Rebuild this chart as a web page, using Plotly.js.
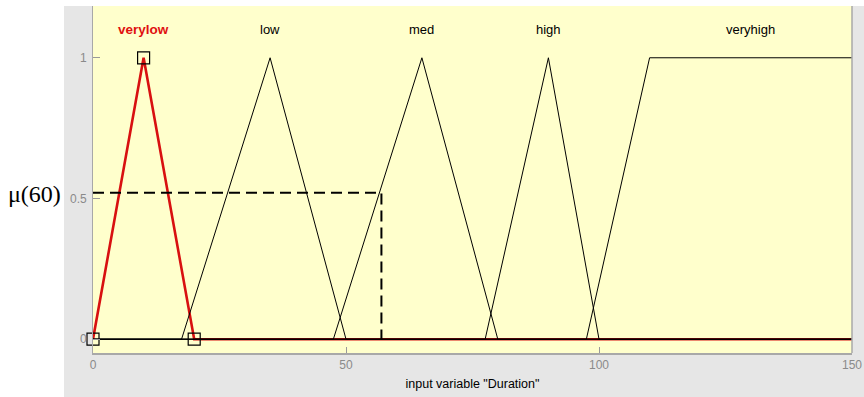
<!DOCTYPE html>
<html>
<head>
<meta charset="utf-8">
<script src="https://cdn.plot.ly/plotly-3.0.1.min.js"></script>
<style>html,body{margin:0;padding:0;background:#fff;}#chart{width:864px;height:397px;}</style>
</head>
<body>
<div id="chart"></div>
<script>
// Membership functions of input variable "Duration"
const mfNames = ['verylow', 'low', 'med', 'high', 'veryhigh'];
const mfX = [
  [0, 10, 20],
  [17.5, 35, 50],
  [47.5, 65, 80],
  [77.5, 90, 100],
  [97.5, 110, 150]
];
const mfY = [
  [0, 1, 0],
  [0, 1, 0],
  [0, 1, 0],
  [0, 1, 0],
  [0, 1, 1]
];
const labelX = [10, 35, 65, 90, 130];
const labelY = 1.1;
const xRange = [0, 150];
const xTicks = [0, 50, 100, 150];
const yTicks = [0, 0.5, 1];
const yTickText = ['0', '0.5', '1'];
// selected MF handles
const handleX = [0, 10, 20];
const handleY = [0, 1, 0];
// evaluation of mu(60)
const muX = 57;
const muY = 0.52;
const muLabel = 'μ(60)';
const xTitle = 'input variable "Duration"';

const traces = [];
// selected MF (verylow) in red, spanning full range
traces.push({
  x: [xRange[0]].concat(mfX[0]).concat([xRange[1]]),
  y: [0].concat(mfY[0]).concat([0]),
  mode: 'lines', line: {color: '#d81010', width: 2.6}, hoverinfo: 'skip'
});
// other MFs in thin black, padded with zeros over full range
for (let i = 1; i < mfNames.length; i++) {
  const xs = [xRange[0]].concat(mfX[i]);
  const ys = [0].concat(mfY[i]);
  if (xs[xs.length - 1] < xRange[1]) { xs.push(xRange[1]); ys.push(0); }
  traces.push({x: xs, y: ys, mode: 'lines', line: {color: '#000', width: 1}, hoverinfo: 'skip'});
}
// dashed mu line
traces.push({
  x: [xRange[0], muX, muX], y: [muY, muY, 0],
  mode: 'lines', line: {color: '#000', width: 2, dash: '11px,6px'}, hoverinfo: 'skip'
});
// handles
traces.push({
  x: handleX, y: handleY, mode: 'markers', cliponaxis: false,
  marker: {symbol: 'square-open', size: 12, color: '#000', line: {width: 1.2, color: '#000'}},
  hoverinfo: 'skip'
});

const tickFont = {family: 'Liberation Sans, Arial, sans-serif', size: 12, color: '#8a8a8a'};
const annotations = mfNames.map((n, i) => ({
  x: labelX[i], y: labelY, xref: 'x', yref: 'y',
  text: i === 0 ? '<b>' + n + '</b>' : n, showarrow: false,
  font: {family: 'Liberation Sans, Arial, sans-serif', size: i === 0 ? 13.5 : 13, color: i === 0 ? '#e01010' : '#000'}
}));
// y tick labels drawn as annotations so that the 0 label is kept
yTicks.forEach((v, i) => annotations.push({
  x: 0, y: v, xref: 'paper', yref: 'y', text: yTickText[i], showarrow: false,
  xanchor: 'right', yanchor: 'middle', xshift: -4, font: tickFont
}));
annotations.push({
  x: -0.04, y: muY, xref: 'paper', yref: 'y', text: muLabel, showarrow: false,
  xanchor: 'right', yanchor: 'middle', yshift: -1,
  font: {family: 'Liberation Serif, Times New Roman, serif', size: 24, color: '#000'}
});

const layout = {
  width: 864, height: 397,
  margin: {l: 93, r: 12, t: 6, b: 44},
  paper_bgcolor: '#ffffff',
  plot_bgcolor: '#ffffcc',
  showlegend: false,
  xaxis: {
    range: xRange, tickvals: xTicks, ticktext: xTicks.map(String),
    ticks: 'inside', ticklen: 6, tickcolor: '#999', showgrid: false, zeroline: false,
    showline: true, linecolor: '#a8a8a8', linewidth: 1.5, mirror: false,
    tickfont: tickFont,
    title: {text: xTitle, standoff: 8, font: {family: 'Liberation Sans, Arial, sans-serif', size: 12.5, color: '#000'}}
  },
  yaxis: {
    range: [-0.049, 1.184], tickvals: yTicks, showticklabels: false,
    ticks: 'inside', ticklen: 7, tickcolor: '#999', showgrid: false, zeroline: false,
    showline: true, linecolor: '#a8a8a8', linewidth: 1.5
  },
  shapes: [
    {type: 'rect', xref: 'paper', yref: 'paper', x0: -0.0382, x1: 1.02, y0: -0.2, y1: 1.0,
     fillcolor: '#e6e6e6', line: {width: 0}, layer: 'below'},
    {type: 'rect', xref: 'paper', yref: 'paper', x0: 0, x1: 1, y0: 0, y1: 1.0,
     fillcolor: '#ffffcc', line: {width: 0}, layer: 'below'},
    {type: 'line', xref: 'paper', yref: 'paper', x0: 1, x1: 1, y0: 0, y1: 1,
     line: {color: '#a8a8a8', width: 1.5}}
  ],
  annotations: annotations
};

Plotly.newPlot('chart', traces, layout, {displayModeBar: false, staticPlot: true});
</script>
</body>
</html>
